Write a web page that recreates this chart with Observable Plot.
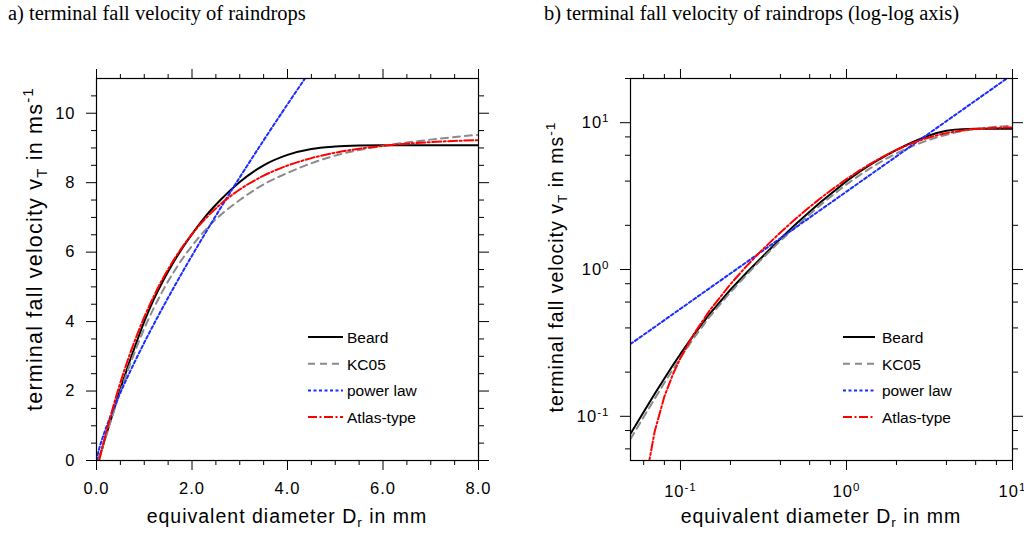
<!DOCTYPE html>
<html><head><meta charset="utf-8">
<script src="https://cdn.jsdelivr.net/npm/d3@7"></script>
<script src="https://cdn.jsdelivr.net/npm/@observablehq/plot@0.6"></script>
<style>
html,body{margin:0;padding:0;background:#fff;}
#fig{position:relative;width:1024px;height:536px;overflow:hidden;background:#fff;}
#fig svg{position:absolute;top:0;overflow:visible;}
</style></head><body><div id="fig"></div>
<script>
// ---- data (equivalent diameter in mm, fall velocity in m/s) ----
const diameters = [0, 0.05, 0.06, 0.065, 0.07, 0.08, 0.09, 0.1, 0.12, 0.15, 0.2, 0.25, 0.3, 0.4, 0.5, 0.6, 0.7, 0.8, 1.0, 1.2, 1.4, 1.6, 1.8, 2.0, 2.3, 2.6, 3.0, 3.5, 4.0, 4.5, 5.0, 5.5, 6.0, 7.0, 8.0, 9.0, 10.0];
const vBeard = [0, 0.076, 0.107, 0.124, 0.1425, 0.181, 0.2225, 0.266, 0.357, 0.498, 0.728, 0.95, 1.17, 1.62, 2.06, 2.47, 2.88, 3.26, 4.00, 4.64, 5.19, 5.68, 6.12, 6.52, 7.06, 7.51, 8.02, 8.50, 8.80, 8.97, 9.04, 9.07, 9.08, 9.08, 9.08, 9.08, 9.08];
const vKC05 = [0, 0.070, 0.099, 0.115, 0.132, 0.169, 0.209, 0.251, 0.340, 0.478, 0.70, 0.92, 1.14, 1.57, 1.98, 2.38, 2.76, 3.12, 3.80, 4.39, 4.92, 5.39, 5.81, 6.18, 6.67, 7.07, 7.50, 7.95, 8.28, 8.56, 8.78, 8.94, 9.06, 9.24, 9.38, 9.47, 9.54];
const vPowerLaw = [0, 0.311, 0.359, 0.383, 0.406, 0.452, 0.497, 0.540, 0.625, 0.747, 0.939, 1.122, 1.298, 1.633, 1.951, 2.257, 2.553, 2.839, 3.393, 3.924, 4.438, 4.937, 5.424, 5.899, 6.596, 7.274, 8.153, 9.220, 10.257, 11.268, 12.257, 13.225, 14.176, 16.030, 17.834, 19.591, 21.31];
const vAtlas = [null, null, 0.0216, 0.0504, 0.0792, 0.1363, 0.1931, 0.2495, 0.3613, 0.5265, 0.795, 1.055, 1.308, 1.789, 2.242, 2.667, 3.067, 3.442, 4.127, 4.731, 5.265, 5.736, 6.152, 6.519, 6.992, 7.383, 7.804, 8.202, 8.493, 8.707, 8.863, 8.978, 9.062, 9.169, 9.226, 9.256, 9.273];
const seriesNames = ["Beard", "KC05", "power law", "Atlas-type"];
const seriesValues = [vBeard, vKC05, vPowerLaw, vAtlas];

const xTicksLin = [0, 2, 4, 6, 8];
const xTickLabelsLin = ["0.0", "2.0", "4.0", "6.0", "8.0"];
const yTicksLin = [0, 2, 4, 6, 8, 10];
const yTickLabelsLin = ["0", "2", "4", "6", "8", "10"];
const logTicks = [0.1, 1, 10];
const logTickLabels = ["10^-1", "10^0", "10^1"];

const titleA = "a) terminal fall velocity of raindrops";
const titleB = "b) terminal fall velocity of raindrops (log-log axis)";

// ---- styles ----
const styles = [
  {stroke: "#000000", dash: null},
  {stroke: "#8a8a8a", dash: "7,5"},
  {stroke: "#1a2cff", dash: "3,2.5"},
  {stroke: "#ff0000", dash: "9,2.5,2,2.5"}
];
const SANS = "'Liberation Sans', Arial, Helvetica, sans-serif";
const SERIF = "'Liberation Serif', 'Times New Roman', serif";

const rows = seriesNames.map((name, i) =>
  diameters.map((d, j) => ({D: d, v: seriesValues[i][j], name})));

const minorRange = (lo, hi, step, majors) => d3.range(lo, hi + 1e-9, step).map(v => +v.toFixed(3)).filter(v => !majors.includes(v));
const xMinorLin = minorRange(0, 8, 0.5, xTicksLin);
const yMinorLin = minorRange(0, 10.5, 0.5, yTicksLin);
const logMinorX = [0.06, 0.08, 0.2, 0.4, 0.6, 0.8, 2, 4, 6, 8];
const logMinorY = [0.06, 0.08, 0.2, 0.4, 0.6, 0.8, 2, 4, 6, 8, 20];

function axes(xMaj, xMin, yMaj, yMin, xFmt, yFmt, xPad) {
  const none = () => "";
  return [
    Plot.axisX({anchor: "bottom", ticks: xMaj, tickSize: 10, tickPadding: xPad, tickFormat: xFmt, label: null}),
    Plot.axisX({anchor: "bottom", ticks: xMin, tickSize: 5, tickFormat: none, fill: "none", label: null}),
    Plot.axisX({anchor: "top", ticks: xMaj, tickSize: 10, tickFormat: none, fill: "none", label: null}),
    Plot.axisX({anchor: "top", ticks: xMin, tickSize: 5, tickFormat: none, fill: "none", label: null}),
    Plot.axisY({anchor: "left", ticks: yMaj, tickSize: 10, tickPadding: 11, tickFormat: yFmt, label: null}),
    Plot.axisY({anchor: "left", ticks: yMin, tickSize: 5, tickFormat: none, fill: "none", label: null}),
    Plot.axisY({anchor: "right", ticks: yMaj, tickSize: 10, tickFormat: none, fill: "none", label: null}),
    Plot.axisY({anchor: "right", ticks: yMin, tickSize: 5, tickFormat: none, fill: "none", label: null})
  ];
}
function curves(filterFn, curve) {
  return rows.map((r, i) => Plot.line(r.filter(filterFn), {
    x: "D", y: "v", stroke: styles[i].stroke, strokeWidth: 2,
    strokeDasharray: styles[i].dash, curve, clip: true
  }));
}
const plotStyle = {fontFamily: SANS, fontSize: "16.5px", letterSpacing: "1px", overflow: "visible", background: "transparent", color: "black"};

const left = Plot.plot({
  width: 512, height: 536, marginLeft: 96, marginRight: 34, marginTop: 78, marginBottom: 76,
  x: {type: "linear", domain: [0, 8]},
  y: {type: "linear", domain: [0, 11]},
  style: plotStyle,
  marks: [
    ...curves(d => d.v !== null, "monotone-x"),
    ...axes(xTicksLin, xMinorLin, yTicksLin, yMinorLin,
      d => xTickLabelsLin[xTicksLin.indexOf(d)], d => yTickLabelsLin[yTicksLin.indexOf(d)], 12),
    Plot.frame({stroke: "black", strokeWidth: 1.2})
  ]
});
const right = Plot.plot({
  width: 512, height: 536, marginLeft: 118, marginRight: 12, marginTop: 78, marginBottom: 76,
  x: {type: "log", domain: [0.05, 10]},
  y: {type: "log", domain: [0.05, 20]},
  style: plotStyle,
  marks: [
    ...curves(d => d.D > 0 && d.v !== null && d.v > 0, "linear"),
    ...axes(logTicks, logMinorX, logTicks, logMinorY,
      d => logTickLabels[logTicks.indexOf(d)], d => logTickLabels[logTicks.indexOf(d)], 15),
    Plot.frame({stroke: "black", strokeWidth: 1.2})
  ]
});
left.style.left = "0px";
right.style.left = "512px";

// superscripts in log tick labels
d3.select(right).selectAll("text").each(function() {
  const m = (this.textContent || "").match(/^10\^(-?\d+)$/);
  if (m) {
    this.textContent = "10";
    d3.select(this).append("tspan").attr("dy", "-0.5em").attr("font-size", "0.7em").text(m[1]);
  }
});

const fig = document.getElementById("fig");
fig.appendChild(left);
fig.appendChild(right);

// overlay: titles, axis titles, legends
const ov = d3.create("svg").attr("width", 1024).attr("height", 536).style("left", "0px")
  .attr("font-family", SANS);
ov.append("text").attr("x", 8).attr("y", 20).attr("font-family", SERIF).attr("font-size", 20.5).text(titleA);
ov.append("text").attr("x", 544).attr("y", 20).attr("font-family", SERIF).attr("font-size", 20.5).text(titleB);

function richText(x, y, rot, parts, fs, spacing) {
  const t = ov.append("text").attr("transform", `translate(${x},${y}) rotate(${rot})`)
    .attr("text-anchor", "middle").attr("font-size", fs).attr("letter-spacing", spacing + "px");
  let shift = 0;
  parts.forEach(p => {
    const [txt, kind] = Array.isArray(p) ? p : [p, "n"];
    const target = kind === "sub" ? 0.22 * fs : kind === "sup" ? -0.42 * fs : 0;
    const s = t.append("tspan").attr("dy", target - shift).text(txt);
    if (kind !== "n") s.attr("font-size", 0.7 * fs);
    shift = target;
  });
}
const xTitle = ["equivalent diameter D", ["r", "sub"], " in mm"];
const yTitle = ["terminal fall velocity v", ["T", "sub"], " in ms", ["-1", "sup"]];
richText(287, 523, 0, xTitle, 19.5, 1);
richText(821, 523, 0, xTitle, 19.5, 1);
richText(42, 249, -90, yTitle, 21.5, 1.2);
richText(563, 267, -90, yTitle, 19.5, 1);

function legend(x1, x2, tx, y0) {
  seriesNames.forEach((name, i) => {
    const yb = y0 + i * 26.7;
    ov.append("line").attr("x1", x1).attr("x2", x2).attr("y1", yb - 6).attr("y2", yb - 6)
      .attr("stroke", styles[i].stroke).attr("stroke-width", 2)
      .attr("stroke-dasharray", styles[i].dash);
    ov.append("text").attr("x", tx).attr("y", yb).attr("font-size", 15.5).text(name);
  });
}
legend(308, 343, 347, 343);
legend(843, 875, 882, 343);
fig.appendChild(ov.node());
</script></body></html>
